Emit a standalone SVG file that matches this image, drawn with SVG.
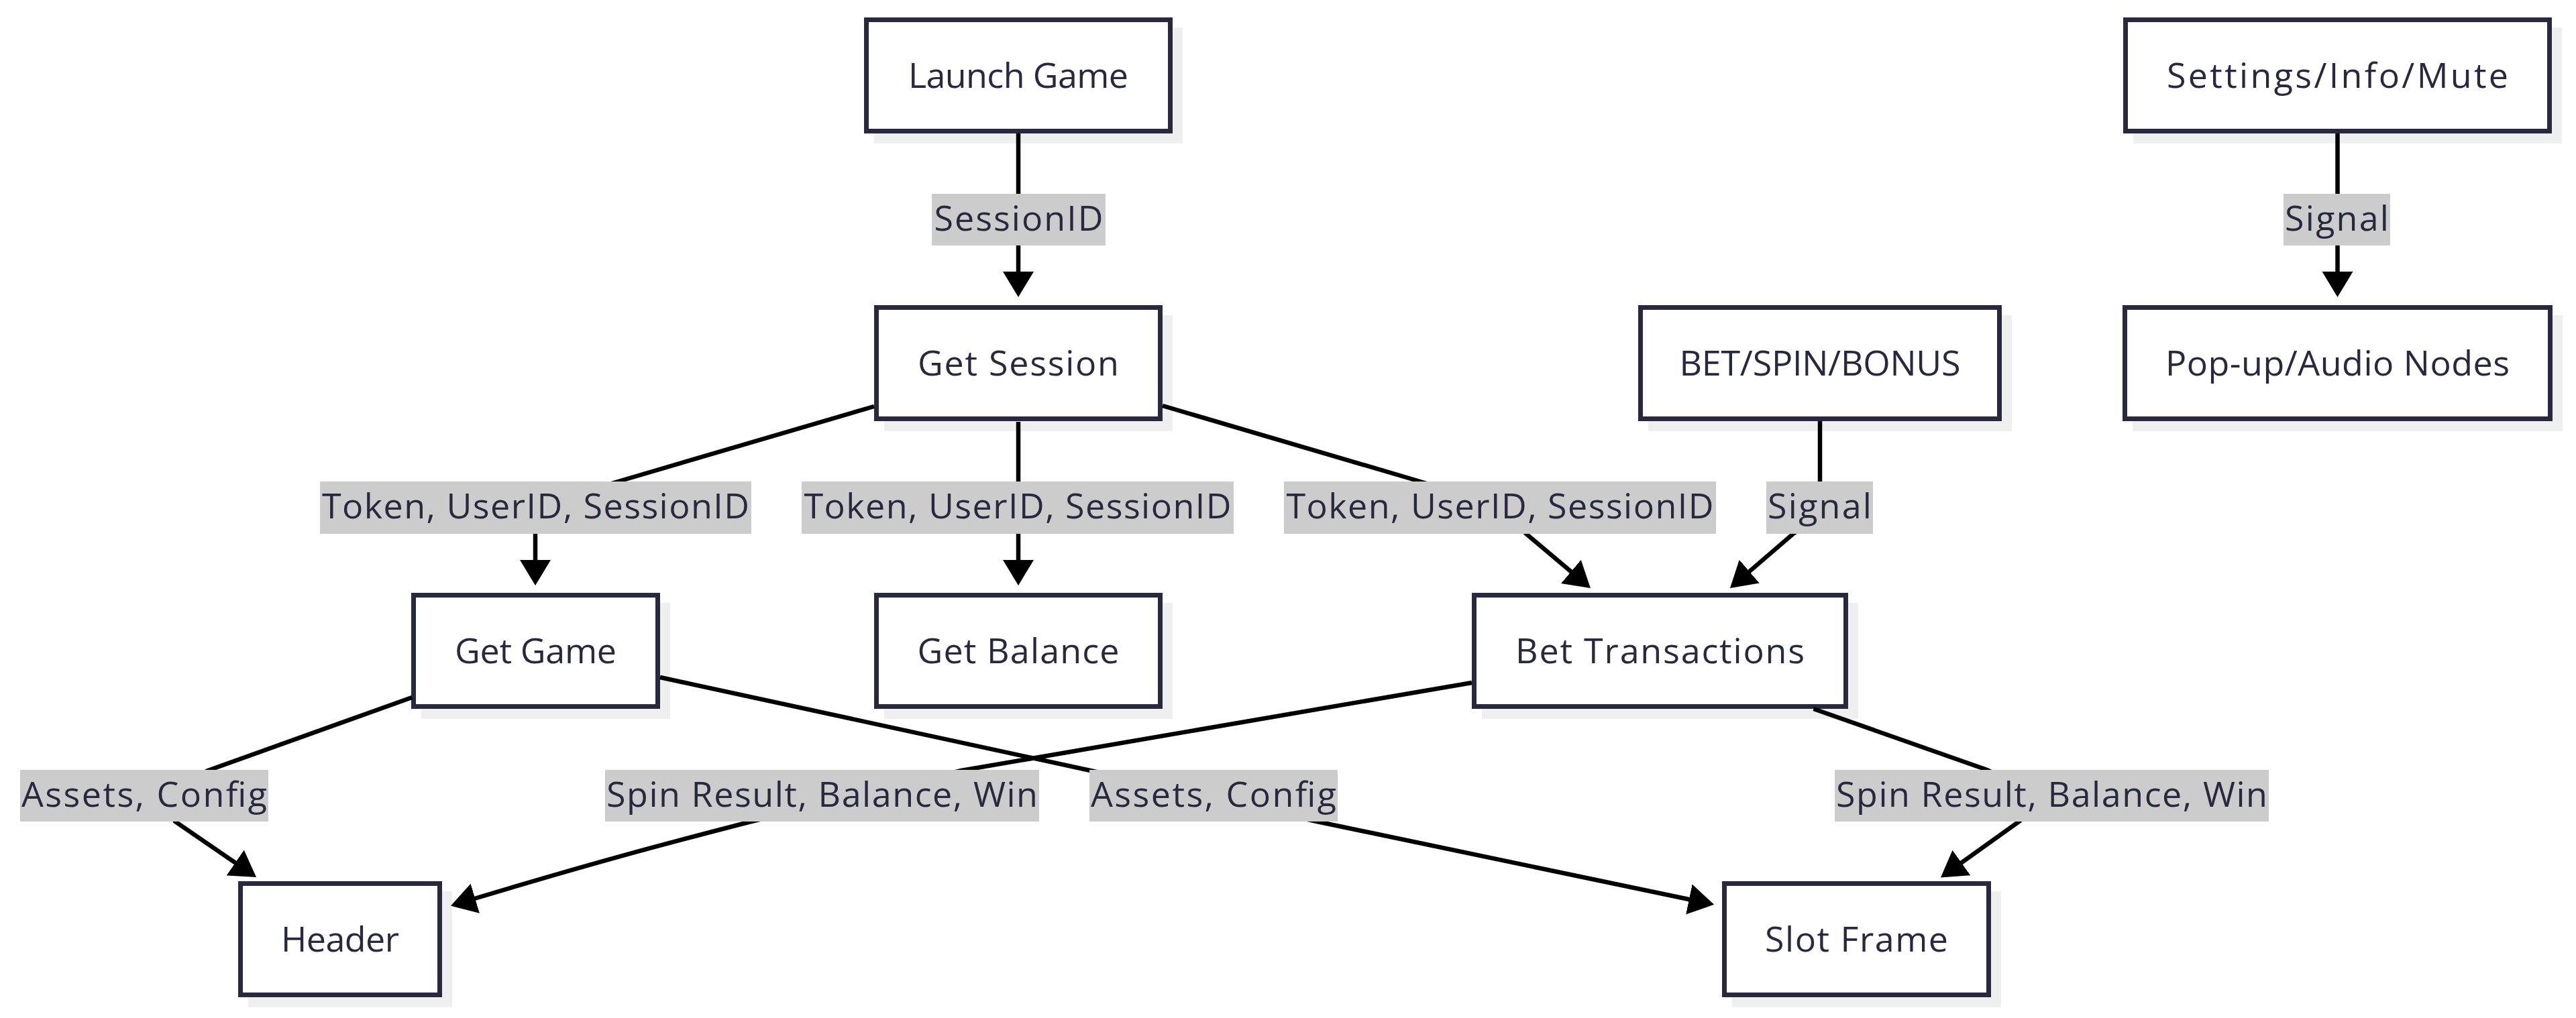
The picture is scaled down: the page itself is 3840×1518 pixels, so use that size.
<svg xmlns="http://www.w3.org/2000/svg" width="3840" height="1518" viewBox="0 0 3840 1518">
<style>
.shadow{fill:#efefef;stroke:#efefef;stroke-width:7}
.box{fill:#ffffff;stroke:#28283f;stroke-width:7}
.ntext{font-family:"Open Sans","Noto Sans",sans-serif;font-size:52px;fill:#28283f;text-anchor:middle}
.edge{fill:none;stroke:#000000;stroke-width:6.5}
.lbg{fill:#cccccc}
.ltext{font-family:"Open Sans","Noto Sans",sans-serif;font-size:52px;fill:#28283f;text-anchor:middle}
</style>
<defs>
<marker id="arrow" markerUnits="userSpaceOnUse" viewBox="0 0 38 46" refX="8" refY="23" markerWidth="38" markerHeight="46" orient="auto">
<path d="M0,0 L38,23 L0,46 z" fill="#000000"/>
</marker>
</defs>
<rect width="3840" height="1518" fill="#ffffff"/>
<g id="node-launch"><rect class="shadow" x="1306.5" y="44.5" width="453" height="166"/><rect class="box" x="1291.5" y="29.5" width="453" height="166"/><text class="ntext" x="1518" y="131" textLength="328">Launch Game</text></g>
<g id="node-settings"><rect class="shadow" x="3183.5" y="44.5" width="632" height="166"/><rect class="box" x="3168.5" y="29.5" width="632" height="166"/><text class="ntext" x="3484.5" y="131" textLength="509">Settings/Info/Mute</text></g>
<g id="node-session"><rect class="shadow" x="1321.5" y="473.5" width="423" height="166"/><rect class="box" x="1306.5" y="458.5" width="423" height="166"/><text class="ntext" x="1518" y="560" textLength="300">Get Session</text></g>
<g id="node-bet"><rect class="shadow" x="2460.5" y="473.5" width="535" height="166"/><rect class="box" x="2445.5" y="458.5" width="535" height="166"/><text class="ntext" x="2713" y="560" textLength="419">BET/SPIN/BONUS</text></g>
<g id="node-popup"><rect class="shadow" x="3182.5" y="473.5" width="634" height="166"/><rect class="box" x="3167.5" y="458.5" width="634" height="166"/><text class="ntext" x="3484.5" y="560" textLength="513">Pop-up/Audio Nodes</text></g>
<g id="node-getgame"><rect class="shadow" x="631.5" y="902.5" width="364" height="166"/><rect class="box" x="616.5" y="887.5" width="364" height="166"/><text class="ntext" x="798.5" y="989" textLength="241">Get Game</text></g>
<g id="node-balance"><rect class="shadow" x="1321.5" y="902.5" width="423" height="166"/><rect class="box" x="1306.5" y="887.5" width="423" height="166"/><text class="ntext" x="1518" y="989" textLength="301">Get Balance</text></g>
<g id="node-bettx"><rect class="shadow" x="2212.5" y="902.5" width="554" height="166"/><rect class="box" x="2197.5" y="887.5" width="554" height="166"/><text class="ntext" x="2474.5" y="989" textLength="431">Bet Transactions</text></g>
<g id="node-header"><rect class="shadow" x="373.5" y="1332.5" width="297" height="166"/><rect class="box" x="358.5" y="1317.5" width="297" height="166"/><text class="ntext" x="507" y="1419" textLength="176">Header</text></g>
<g id="node-slot"><rect class="shadow" x="2585.5" y="1332.5" width="394" height="166"/><rect class="box" x="2570.5" y="1317.5" width="394" height="166"/><text class="ntext" x="2767.5" y="1419" textLength="273">Slot Frame</text></g>
<g id="connectors">
<path class="edge" marker-end="url(#arrow)" d="M1518 199 L1518 413"/>
<path class="edge" marker-end="url(#arrow)" d="M1303 606 L918 719 Q798 754 798 796 L798 843"/>
<path class="edge" marker-end="url(#arrow)" d="M1518 629 L1518 843"/>
<path class="edge" marker-end="url(#arrow)" d="M1733 605 L2117 718 Q2240 755 2275 796 L2348 857.6"/>
<path class="edge" marker-end="url(#arrow)" d="M2713 628 L2713 740 Q2713 770 2673 796 L2601.7 857.4"/>
<path class="edge" marker-end="url(#arrow)" d="M3484.5 199 L3484.5 413"/>
<path class="edge" marker-end="url(#arrow)" d="M614 1040 L310 1149 Q245 1180 261 1225 L357.3 1291"/>
<path class="edge" marker-end="url(#arrow)" d="M984 1010 L1630 1150 L1963 1225 L2525.7 1342.7"/>
<path class="edge" marker-end="url(#arrow)" d="M2194 1018 L1433 1149 L1120 1225 C1000 1256 900 1282 700.6 1342"/>
<path class="edge" marker-end="url(#arrow)" d="M2703.5 1057 L2962 1148 Q3040 1185 3010.6 1224.5 L2917.4 1291.1"/>
<g id="edge-labels">
<g id="label-sessionid"><rect class="lbg" x="1389" y="289" width="259" height="77"/><text class="ltext" x="1518.5" y="344" textLength="252">SessionID</text></g>
<g id="label-signal-top"><rect class="lbg" x="3404" y="289" width="159" height="77"/><text class="ltext" x="3483.5" y="344" textLength="155">Signal</text></g>
<g id="label-token-l"><rect class="lbg" x="477" y="718" width="643" height="78"/><text class="ltext" x="798.5" y="773" textLength="637">Token, UserID, SessionID</text></g>
<g id="label-token-m"><rect class="lbg" x="1195" y="718" width="644" height="78"/><text class="ltext" x="1517" y="773" textLength="637">Token, UserID, SessionID</text></g>
<g id="label-token-r"><rect class="lbg" x="1914" y="718" width="644" height="78"/><text class="ltext" x="2236" y="773" textLength="637">Token, UserID, SessionID</text></g>
<g id="label-signal-mid"><rect class="lbg" x="2633" y="718" width="159" height="78"/><text class="ltext" x="2712.5" y="773" textLength="155">Signal</text></g>
<g id="label-assets-l"><rect class="lbg" x="30" y="1148" width="370" height="77"/><text class="ltext" x="215" y="1203" textLength="366">Assets, Config</text></g>
<g id="label-spin-l"><rect class="lbg" x="902" y="1148" width="647" height="77"/><text class="ltext" x="1225.5" y="1203" textLength="643">Spin Result, Balance, Win</text></g>
<g id="label-assets-r"><rect class="lbg" x="1624" y="1148" width="370" height="77"/><text class="ltext" x="1809" y="1203" textLength="366">Assets, Config</text></g>
<g id="label-spin-r"><rect class="lbg" x="2735" y="1148" width="647" height="77"/><text class="ltext" x="3058.5" y="1203" textLength="643">Spin Result, Balance, Win</text></g>
</g>
</g>
</svg>
